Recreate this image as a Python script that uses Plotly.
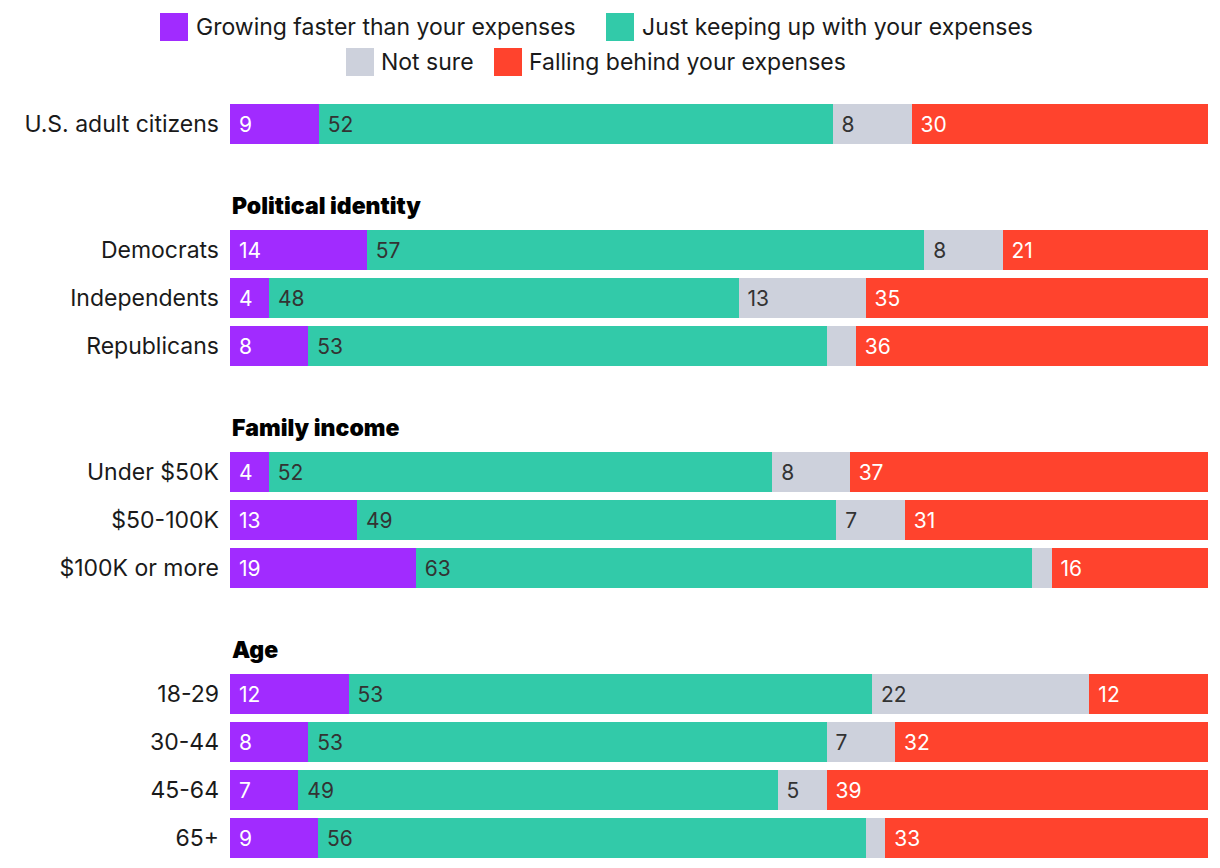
import plotly.graph_objects as go

# ---------------- data ----------------
group_titles = ["", "Political identity", "Family income", "Age"]
group_rows = [
    ["U.S. adult citizens"],
    ["Democrats", "Independents", "Republicans"],
    ["Under $50K", "$50-100K", "$100K or more"],
    ["18-29", "30-44", "45-64", "65+"],
]
growing = [9, 14, 4, 8, 4, 13, 19, 12, 8, 7, 9]
keeping = [52, 57, 48, 53, 52, 49, 63, 53, 53, 49, 56]
not_sure = [8, 8, 13, 3, 8, 7, 2, 22, 7, 5, 2]
falling = [30, 21, 35, 36, 37, 31, 16, 12, 32, 39, 33]

series_names = [
    "Growing faster than your expenses",
    "Just keeping up with your expenses",
    "Not sure",
    "Falling behind your expenses",
]
series_values = [growing, keeping, not_sure, falling]
series_colors = ["#A12BFF", "#32CAA9", "#CDD1DC", "#FF432D"]
label_colors = ["#FFFFFF", "#333333", "#333333", "#FFFFFF"]

# ---------------- layout geometry ----------------
W, H = 1220, 868
M_L, M_R, M_T, M_B = 230, 12, 100, 6
PITCH = 48      # px per row
GAP = 78        # px between groups
FONT = "Inter"

plot_h = H - M_T - M_B

def py2paper(py):
    return (H - M_B - py) / plot_h

def px2paper(px):
    return (px - M_L) / (W - M_L - M_R)

fig = go.Figure()

# compute domains from the top
domains = []
cur = M_T
for rows in group_rows:
    top = cur
    bottom = cur + PITCH * len(rows)
    domains.append((py2paper(bottom), py2paper(top)))
    cur = bottom + GAP

idx = 0
annotations = []
for g, rows in enumerate(group_rows):
    n = len(rows)
    yname = "y" if g == 0 else f"y{g+1}"
    for s in range(4):
        vals = series_values[s][idx:idx + n]
        texts = [(" " + str(v)) if v >= 4 else "" for v in vals]
        fig.add_trace(go.Bar(
            x=vals, y=rows, orientation="h",
            name=series_names[s],
            marker=dict(color=series_colors[s], line=dict(width=0)),
            text=texts, textposition="inside", insidetextanchor="start",
            textangle=0, constraintext="none",
            insidetextfont=dict(family=FONT, size=21, color=label_colors[s]),
            hoverinfo="skip", showlegend=False,
            xaxis="x", yaxis=yname,
        ))
    idx += n
    ax = dict(
        domain=list(domains[g]), type="category", categoryarray=rows,
        categoryorder="array", autorange="reversed", anchor="x",
        showgrid=False, zeroline=False, showline=False, ticks="",
        ticklabelstandoff=10,
        tickfont=dict(family=FONT, size=23, color="#1a1a1a"),
    )
    key = "yaxis" if g == 0 else f"yaxis{g+1}"
    fig.update_layout(**{key: ax})
    if group_titles[g]:
        annotations.append(dict(
            x=0, y=domains[g][1], xref="paper", yref="paper",
            xanchor="left", yanchor="middle", yshift=20,
            text=group_titles[g], showarrow=False,
            font=dict(family=FONT, size=23, color="#000000", weight=900),
        ))

# ---------------- custom legend ----------------
legend_items = [
    (0, 160, 194, 27),
    (1, 606, 640, 27),
    (2, 346, 379, 62),
    (3, 494, 527, 62),
]
shapes = []
SW = 28
for s, sx, tx, cy in legend_items:
    shapes.append(dict(
        type="rect", xref="paper", yref="paper",
        x0=px2paper(sx), x1=px2paper(sx + SW),
        y0=py2paper(cy + SW / 2), y1=py2paper(cy - SW / 2),
        fillcolor=series_colors[s], line=dict(width=0),
    ))
    annotations.append(dict(
        x=px2paper(tx), y=py2paper(cy), xref="paper", yref="paper",
        xanchor="left", yanchor="middle", text=series_names[s],
        showarrow=False, font=dict(family=FONT, size=23, color="#1a1a1a"),
    ))

fig.update_layout(
    width=W, height=H,
    margin=dict(l=M_L, r=M_R, t=M_T, b=M_B),
    barmode="stack", barnorm="percent", bargap=1 / 6,
    plot_bgcolor="white", paper_bgcolor="white",
    xaxis=dict(range=[0, 100], visible=False, fixedrange=True),
    annotations=annotations, shapes=shapes,
    showlegend=False,
    font=dict(family=FONT),
)

fig.write_html("out.html")
